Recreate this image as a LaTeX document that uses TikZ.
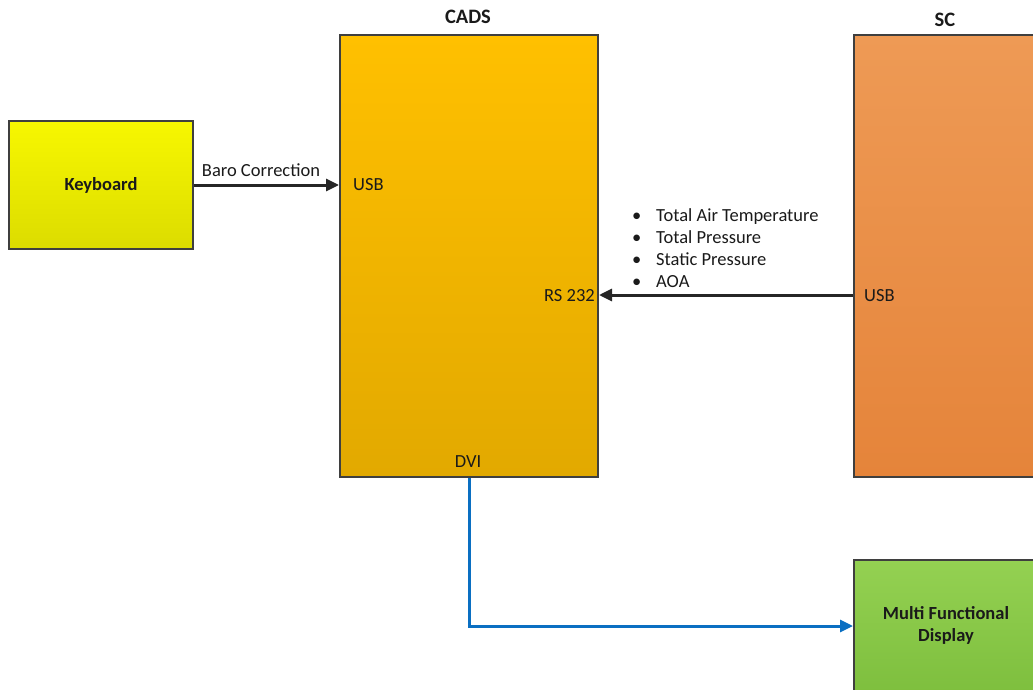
\documentclass[tikz,border=0pt]{standalone}
\usepackage{fontspec}
\setmainfont{Carlito}
\usetikzlibrary{arrows.meta,calc}
\definecolor{edge}{HTML}{3F3F3F}
\definecolor{ink}{HTML}{1A1A1A}
\definecolor{kbtop}{HTML}{F7F700}
\definecolor{kbbot}{HTML}{DCDC00}
\definecolor{cadstop}{HTML}{FFC000}
\definecolor{cadsbot}{HTML}{E2A900}
\definecolor{sctop}{HTML}{EE9A55}
\definecolor{scbot}{HTML}{E5843A}
\definecolor{mfdtop}{HTML}{94D152}
\definecolor{mfdbot}{HTML}{7EBF3E}
\definecolor{link}{HTML}{0A6FC2}
\definecolor{arr}{HTML}{262626}
\tikzset{
  block/.style={draw=edge, line width=2pt, inner sep=0pt, font=\fontsize{18.5}{22}\selectfont\bfseries, text=ink, align=center},
  lbl/.style={inner sep=0pt, font=\fontsize{18.5}{22}\selectfont, text=ink},
  title/.style={inner sep=0pt, font=\fontsize{20.5}{24}\selectfont\bfseries, text=ink},
  conn/.style={line width=3pt, draw=arr, -{Triangle[length=13pt,width=12pt]}},
  bconn/.style={line width=3pt, draw=link, -{Triangle[length=13pt,width=12pt]}}
}
\begin{document}
\begin{tikzpicture}[x=1pt,y=-1pt]
\useasboundingbox (0,0) rectangle (1033,690);
\clip (0,0) rectangle (1033,690);
\node[block, top color=kbtop, bottom color=kbbot, minimum width=184pt, minimum height=128pt] (kb) at (101,185) {Keyboard};
\node[block, top color=cadstop, bottom color=cadsbot, minimum width=258pt, minimum height=442pt] (cads) at (469,256) {};
\node[block, top color=sctop, bottom color=scbot, minimum width=200pt, minimum height=442pt] (sc) at (954,256) {};
\node[block, top color=mfdtop, bottom color=mfdbot, minimum width=200pt, minimum height=132pt] (mfd) at (954,626) {};
\node[title] (cadst) at (468,17) {CADS};
\node[title] (sct) at (945,20) {SC};
\node[align=center, inner sep=0pt, text=ink, font=\fontsize{18.5}{22}\selectfont\bfseries] (mfdt) at (946,625) {Multi Functional\\Display};
\node[lbl, anchor=west] (usb1) at (353,185) {USB};
\node[lbl, anchor=east] (rs) at (595,296) {RS 232};
\node[lbl, anchor=west] (usb2) at (864,296) {USB};
\node[lbl] (dvi) at (468,462) {DVI};
\node[lbl] (baro) at (261,170) {Baro Correction};
\node[lbl, anchor=north west, align=left] (list) at (632,208.5)
 {\makebox[24pt][l]{\textbullet}Total Air Temperature\\
  \makebox[24pt][l]{\textbullet}Total Pressure\\
  \makebox[24pt][l]{\textbullet}Static Pressure\\
  \makebox[24pt][l]{\textbullet}AOA};
\coordinate (scport) at ($(sc.west)+(0,39)$);
\draw[conn] (kb.east) -- (kb.east -| cads.west);
\draw[conn] (scport) -- (scport -| cads.east);
\draw[bconn] (cads.south) |- (mfd.west);
\end{tikzpicture}
\end{document}
